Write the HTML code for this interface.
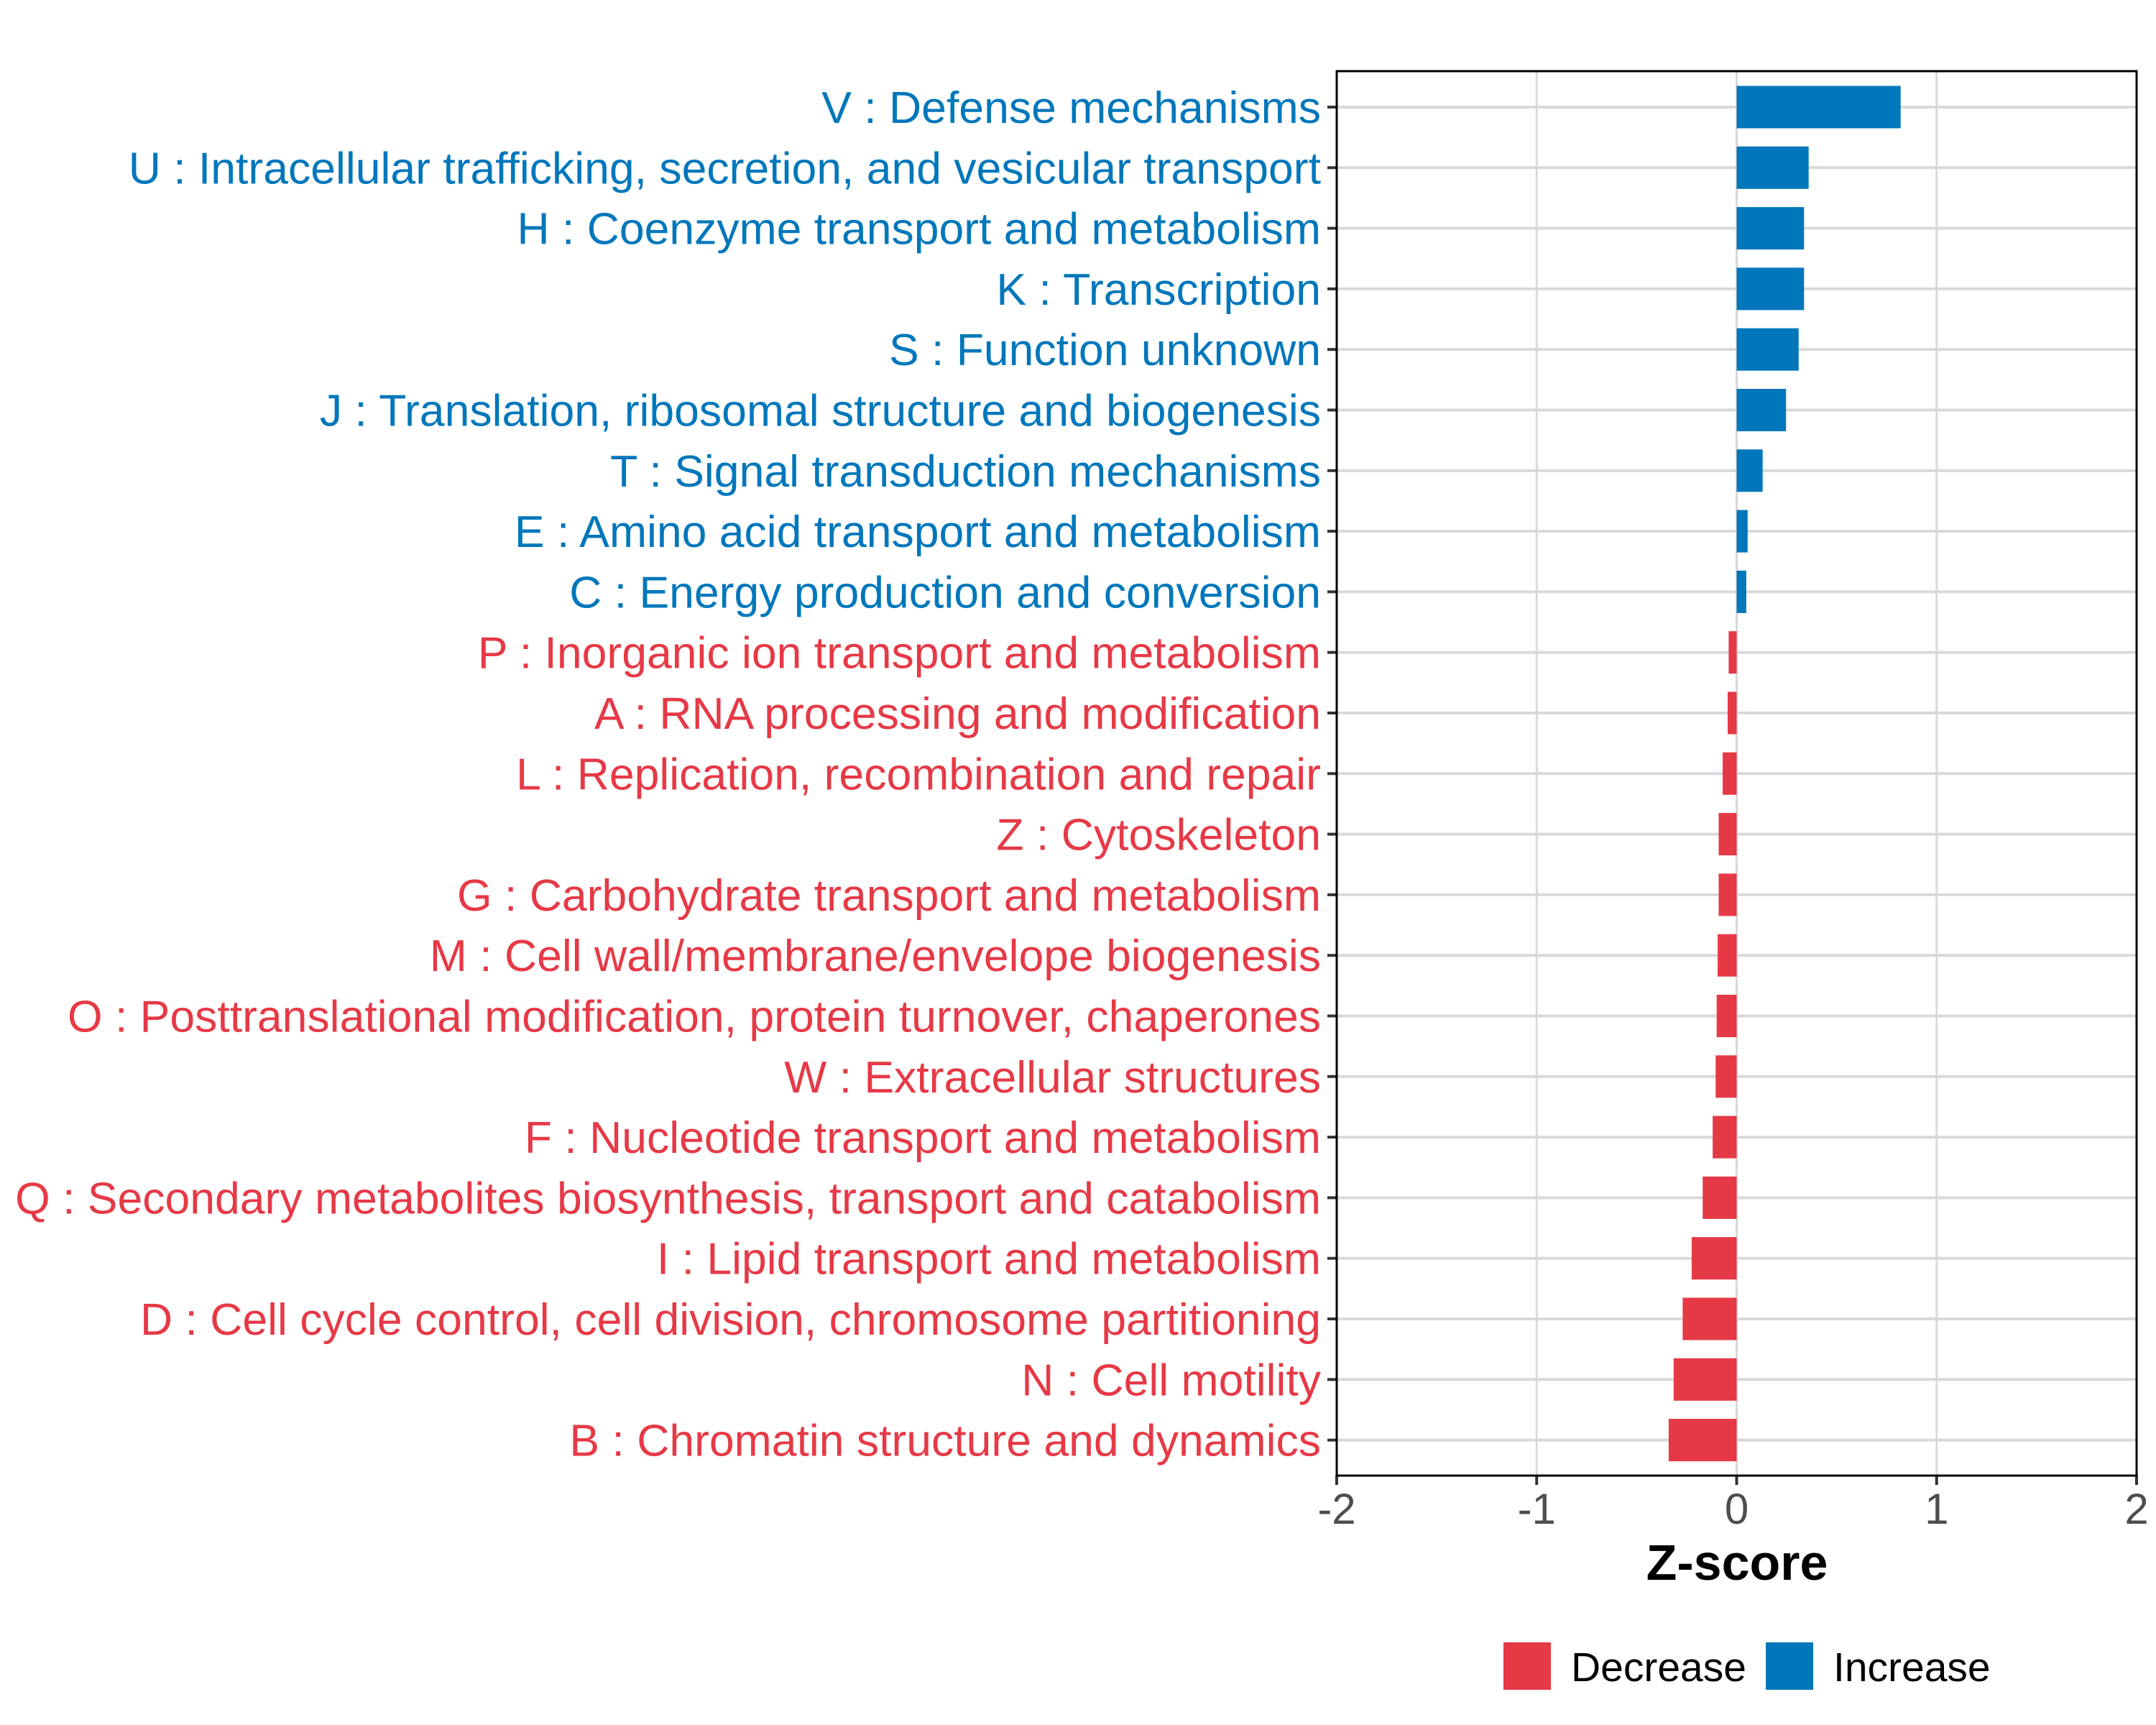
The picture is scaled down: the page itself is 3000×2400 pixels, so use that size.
<!DOCTYPE html>
<html><head><meta charset="utf-8"><style>
html,body{margin:0;padding:0;background:#fff}
svg{display:block;font-family:"Liberation Sans",Arial,sans-serif}
</style></head><body>
<svg id="chart" width="3000" height="2400" viewBox="0 0 3000 2400" xmlns="http://www.w3.org/2000/svg">
<g id="grid"></g>
<g id="bars"></g>
<g id="ylabels"></g>
<g id="xaxis"></g>
<rect x="1860" y="99" width="1113" height="1954" fill="none" stroke="#000" stroke-width="3"/>
<text x="2417" y="2198" font-size="70" font-weight="bold" text-anchor="middle" fill="#000">Z-score</text>
<g>
<rect x="2092" y="2285" width="66" height="66" fill="#E63946"/>
<text x="2186" y="2339" font-size="57" fill="#000">Decrease</text>
<rect x="2457" y="2285" width="66" height="66" fill="#0077BB"/>
<text x="2551" y="2339" font-size="57" fill="#000">Increase</text>
</g>
</svg>
<script>
const categories = [
"V : Defense mechanisms",
"U : Intracellular trafficking, secretion, and vesicular transport",
"H : Coenzyme transport and metabolism",
"K : Transcription",
"S : Function unknown",
"J : Translation, ribosomal structure and biogenesis",
"T : Signal transduction mechanisms",
"E : Amino acid transport and metabolism",
"C : Energy production and conversion",
"P : Inorganic ion transport and metabolism",
"A : RNA processing and modification",
"L : Replication, recombination and repair",
"Z : Cytoskeleton",
"G : Carbohydrate transport and metabolism",
"M : Cell wall/membrane/envelope biogenesis",
"O : Posttranslational modification, protein turnover, chaperones",
"W : Extracellular structures",
"F : Nucleotide transport and metabolism",
"Q : Secondary metabolites biosynthesis, transport and catabolism",
"I : Lipid transport and metabolism",
"D : Cell cycle control, cell division, chromosome partitioning",
"N : Cell motility",
"B : Chromatin structure and dynamics"
];
const zscores = [0.82,0.36,0.337,0.337,0.31,0.247,0.13,0.055,0.048,-0.04,-0.045,-0.07,-0.09,-0.09,-0.095,-0.1,-0.105,-0.12,-0.17,-0.225,-0.27,-0.315,-0.34];
const xTicks = [-2,-1,0,1,2];
const xTickLabels = ["-2","-1","0","1","2"];

const NS = "http://www.w3.org/2000/svg";
const L = 1860, R = 2973, T = 99, B = 2053;
const xMin = -2, xMax = 2;
function xScale(v){ return L + (v - xMin) / (xMax - xMin) * (R - L); }
const rowTop = 149, rowStep = 84.3;
function yScale(i){ return rowTop + i * rowStep; }
const barH = 59;
function mk(tag, attrs){ const e = document.createElementNS(NS, tag); for (const k in attrs) e.setAttribute(k, attrs[k]); return e; }

const grid = document.getElementById('grid');
xTicks.forEach((t) => {
  const ln = mk('line', {x1: xScale(t), x2: xScale(t), y1: T, y2: B, stroke: '#d9d9d9', 'stroke-width': 3});
  
  
  grid.appendChild(ln);
});
categories.forEach((c, i) => {
  const ln = mk('line', {x1: L, x2: R, y1: yScale(i), y2: yScale(i), stroke: '#d9d9d9', 'stroke-width': 4});
  
  
  grid.appendChild(ln);
});

const bars = document.getElementById('bars');
const ylab = document.getElementById('ylabels');
const x0 = xScale(0);
zscores.forEach((v, i) => {
  const color = v >= 0 ? '#0077BB' : '#E63946';
  const xv = xScale(v);
  const r = mk('rect', {x: Math.min(x0, xv), y: yScale(i) - barH/2, width: Math.abs(xv - x0), height: barH, fill: color});
  
  
  bars.appendChild(r);
  const tk = mk('line', {x1: L - 13, x2: L, y1: yScale(i), y2: yScale(i), stroke: '#333', 'stroke-width': 4});
  
  
  ylab.appendChild(tk);
  const tx = mk('text', {x: 1838, y: yScale(i) + 22, 'font-size': 62.5, 'text-anchor': 'end', fill: color});
  tx.textContent = categories[i];
  
  
  ylab.appendChild(tx);
});

const xa = document.getElementById('xaxis');
xTicks.forEach((t, i) => {
  const tk = mk('line', {x1: xScale(t), x2: xScale(t), y1: B, y2: B + 13, stroke: '#333', 'stroke-width': 4});
  
  
  xa.appendChild(tk);
  const tx = mk('text', {x: xScale(t), y: 2120, 'font-size': 60, 'text-anchor': 'middle', fill: '#4d4d4d'});
  tx.textContent = xTickLabels[i];
  
  
  xa.appendChild(tx);
});
</script>
</body></html>
